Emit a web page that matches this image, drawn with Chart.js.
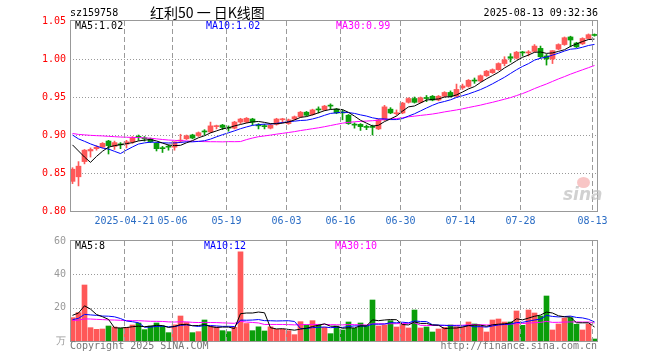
<!DOCTYPE html>
<html><head><meta charset="utf-8">
<script src="https://cdn.jsdelivr.net/npm/chart.js@4.4.1/dist/chart.umd.min.js"></script>
<style>
html,body{margin:0;padding:0;background:#fff;width:660px;height:360px;overflow:hidden;}
#wrap{position:relative;width:660px;height:360px;}
canvas{position:absolute;left:0;}
#pc{top:0;} #vc{top:230px;}
.t{position:absolute;font-family:"DejaVu Sans Mono",monospace;font-size:10px;line-height:12px;white-space:pre;color:#000;}
#eye{position:absolute;left:577px;top:177px;width:13px;height:11px;border-radius:50%;background:rgba(235,90,90,0.35);}
</style></head><body>
<div id="wrap">
<canvas id="pc" width="660" height="230"></canvas>
<canvas id="vc" width="660" height="130"></canvas>
<div id="eye"></div>
<div class="t" id="code" style="left:70px;top:7px;"></div>
<div class="t" id="title" style="left:150px;top:3px;font-family:'Noto Sans CJK SC',sans-serif;font-size:14px;line-height:18px;"></div>
<div class="t" id="stamp" style="right:62px;top:7px;"></div>
<div class="t" id="pl0" style="left:75px;top:20px;color:#000"></div>
<div class="t" id="pl1" style="left:206px;top:20px;color:#0000ff"></div>
<div class="t" id="pl2" style="left:336px;top:20px;color:#ff00ff"></div>
<div class="t" id="vl0" style="left:75px;top:240px;color:#000"></div>
<div class="t" id="vl1" style="left:204px;top:240px;color:#0000ff"></div>
<div class="t" id="vl2" style="left:335px;top:240px;color:#ff00ff"></div>
<div class="t" id="copy" style="left:70px;top:340px;color:#777"></div>
<div class="t" id="url" style="right:63px;top:340px;color:#777"></div>
<div class="t" id="logo" style="left:563px;top:184px;font-family:'DejaVu Sans',sans-serif;font-size:17px;font-weight:bold;font-style:italic;color:rgba(190,190,190,0.7);line-height:20px;"></div>
</div>
<script>
// ---------- data ----------
const code = 'sz159758';
const titleText = '红利50 一 日K线图';
const stampText = '2025-08-13 09:32:36';
const priceLegend = ['MA5:1.02', 'MA10:1.02', 'MA30:0.99'];
const volLegend = ['MA5:8', 'MA10:12', 'MA30:10'];
const copyText = 'Copyright 2025 SINA.COM';
const urlText = 'http://finance.sina.com.cn';

const dates = ['04-08','04-09','04-10','04-11','04-14','04-15','04-16','04-17','04-18','04-21',
'04-22','04-23','04-24','04-25','04-28','04-29','04-30','05-06','05-07','05-08',
'05-09','05-12','05-13','05-14','05-15','05-16','05-19','05-20','05-21','05-22',
'05-23','05-26','05-27','05-28','05-29','05-30','06-03','06-04','06-05','06-06',
'06-09','06-10','06-11','06-12','06-13','06-16','06-17','06-18','06-19','06-20',
'06-23','06-24','06-25','06-26','06-27','06-30','07-01','07-02','07-03','07-04',
'07-07','07-08','07-09','07-10','07-11','07-14','07-15','07-16','07-17','07-18',
'07-21','07-22','07-23','07-24','07-25','07-28','07-29','07-30','07-31','08-01',
'08-04','08-05','08-06','08-07','08-08','08-11','08-12','08-13'];
const tickDates = ['04-21','05-06','05-19','06-03','06-16','06-30','07-14','07-28','08-13'];
const tickLabels = ['2025-04-21','05-06','05-19','06-03','06-16','06-30','07-14','07-28','08-13'];
const priceTicks = [0.80, 0.85, 0.90, 0.95, 1.00, 1.05];
const volTicks = [0, 20, 40, 60];

const open = [.839,.845,.865,.879,.882,.884,.892,.885,.888,.888,
.891,.898,.896,.895,.889,.883,.885,.884,.892,.895,
.900,.899,.905,.904,.911,.913,.910,.909,.917,.917,
.921,.913,.912,.909,.914,.920,.915,.921,.924,.930,
.927,.934,.933,.939,.934,.930,.926,.914,.914,.911,
.911,.908,.920,.934,.928,.929,.943,.948,.943,.949,
.951,.946,.951,.956,.951,.962,.964,.972,.971,.978,
.982,.986,.994,1.003,1.001,1.009,1.008,1.010,1.014,1.004,
1.000,1.013,1.019,1.029,1.021,1.020,1.027,1.032];
const high = [.857,.865,.881,.883,.886,.890,.893,.892,.890,.893,
.898,.900,.898,.896,.890,.885,.887,.891,.901,.900,
.901,.904,.907,.917,.913,.914,.912,.918,.922,.923,
.922,.915,.914,.914,.922,.922,.921,.925,.931,.931,
.934,.937,.939,.941,.935,.933,.927,.916,.915,.913,
.913,.921,.939,.936,.933,.943,.949,.950,.950,.952,
.952,.952,.957,.958,.967,.967,.973,.975,.979,.985,
.987,.995,1.003,1.007,1.010,1.010,1.011,1.019,1.017,1.006,
1.011,1.020,1.029,1.030,1.022,1.028,1.033,1.033];
const low = [.836,.833,.862,.871,.880,.883,.875,.881,.882,.883,
.889,.893,.892,.890,.879,.877,.880,.880,.890,.894,
.895,.898,.900,.903,.908,.907,.905,.908,.915,.916,
.913,.908,.908,.908,.913,.916,.914,.920,.923,.925,
.926,.929,.932,.934,.928,.920,.914,.909,.906,.907,
.900,.907,.919,.928,.926,.928,.942,.942,.942,.944,
.945,.945,.950,.950,.950,.960,.963,.968,.970,.977,
.981,.985,.991,.996,1.000,1.004,1.004,1.009,1.001,.992,
.994,1.012,1.018,1.016,1.015,1.019,1.026,1.030];
const close = [.855,.859,.880,.881,.884,.889,.886,.890,.887,.891,
.896,.897,.895,.891,.882,.882,.884,.891,.893,.899,
.896,.903,.904,.912,.912,.910,.909,.917,.921,.922,
.917,.912,.911,.913,.921,.921,.920,.924,.930,.926,
.933,.933,.938,.938,.929,.929,.915,.913,.911,.910,
.910,.920,.937,.929,.929,.942,.948,.943,.949,.948,
.946,.951,.956,.951,.960,.9645,.972,.971,.978,.984,
.986,.994,.999,1.001,1.009,1.008,1.009,1.017,1.003,1.000,
1.011,1.019,1.028,1.025,1.016,1.027,1.032,1.031];
const volume = [14,17,33.6,8,7,7.2,9,8.4,7.6,8.2,
9.6,10.8,6.8,9,10.8,9,5,9.7,15,11.1,
5,5.6,12.6,9,8.4,6.2,5.6,8.2,53.5,10.5,
6.2,8.5,6,8.5,7,7,6.2,3.8,11.6,9.6,
12.2,10,8.2,4.4,9,6.6,11.4,7.6,10.8,9,
24.6,9,9.6,12.2,8.4,10.2,7.8,18.6,7.8,8.4,
5.4,7.2,8.2,9.6,8.6,8.2,11.4,10.2,9,5.4,
12.6,13.2,11.4,11.4,18,9.4,18.6,16.8,15,27,
6.6,10.2,13.8,14,10,6.6,10.2,1.2];
// closes / volumes of the 29 sessions before the first visible one (estimated from the MA lines at the left edge)
const prevClose = [0.895,0.898,0.900,0.897,0.899,0.902,0.904,0.901,0.899,0.903,
0.905,0.907,0.904,0.906,0.908,0.905,0.903,0.906,0.909,0.909,
0.910,0.912,0.915,0.913,0.915,0.899,0.920,0.916,0.845];
const prevVolume = [11,12,10,13,12,14,11,12,13,12,
11,12,14,12,11,13,12,11,12,14,
9,10,11,10,11,10,12,18,23];

// ---------- helpers ----------
function movingAvg(prev, vals, n) {
  const all = prev.concat(vals), off = prev.length;
  return vals.map((_, i) => { let s = 0; for (let k = 0; k < n; k++) s += all[off + i - k]; return s / n; });
}
const UP = '#ff5858', DOWN = '#0a9e0a';
const colors = close.map((c, i) => c >= open[i] ? UP : DOWN);
const tickIdx = tickDates.map(d => dates.indexOf(d));
const N = dates.length;
const XMIN = -5 / 12, XMAX = N - 5 / 12;
const FONT = { family: 'DejaVu Sans Mono', size: 10 };

document.getElementById('code').textContent = code;
document.getElementById('title').textContent = titleText;
document.getElementById('stamp').textContent = stampText;
['pl0','pl1','pl2'].forEach((id, k) => document.getElementById(id).textContent = priceLegend[k]);
['vl0','vl1','vl2'].forEach((id, k) => document.getElementById(id).textContent = volLegend[k]);
document.getElementById('copy').textContent = copyText;
document.getElementById('url').textContent = urlText;
document.getElementById('logo').textContent = 'sina';

function drawHGrid(chart, yt) {
  const { ctx, chartArea: a, scales } = chart;
  ctx.save(); ctx.fillStyle = '#999999';
  yt.forEach(v => {
    const y = Math.round(scales.y.getPixelForValue(v));
    if (y <= a.top + 1 || y >= a.bottom - 1) return;
    for (let x = Math.round(a.left); x < a.right; x += 3) ctx.fillRect(x, y, 1, 1);
  });
  ctx.restore();
}
function drawVGrid(chart) {
  const { ctx, chartArea: a, scales } = chart;
  ctx.save(); ctx.fillStyle = '#9a9a9a';
  tickIdx.forEach(i => {
    let px = scales.x.getPixelForValue(i - 1 / 3);
    if (!isFinite(px)) px = a.left + (i - 1 / 3 - XMIN) / (XMAX - XMIN) * (a.right - a.left);
    const x = Math.floor(px);
    for (let y = Math.round(a.top); y < a.bottom; y += 8) ctx.fillRect(x, y, 1, Math.min(5, a.bottom - y));
  });
  ctx.restore();
}
function makeGridPlugin(yt) {
  return {
    id: 'sinaGrid',
    beforeDatasetsDraw(chart) { drawHGrid(chart, yt); drawVGrid(chart); }
  };
}
const framePlugin = {
  id: 'frame',
  afterDraw(chart) {
    const a = chart.chartArea, ctx = chart.ctx;
    drawVGrid(chart);
    ctx.save();
    ctx.strokeStyle = '#999'; ctx.lineWidth = 1; ctx.setLineDash([]);
    ctx.strokeRect(Math.round(a.left) + 0.5, Math.round(a.top) - 0.5, Math.round(a.right - a.left) - 1, Math.round(a.bottom - a.top) + 1);
    ctx.restore();
  }
};

function xScale(showLabels) {
  return {
    type: 'linear', min: XMIN, max: XMAX, offset: false,
    afterBuildTicks: s => { s.ticks = tickIdx.map(i => ({ value: i - 1 / 3 })); },
    afterFit: s => { s.height = 19; },
    grid: { display: false, drawTicks: false },
    border: { display: false },
    ticks: { display: showLabels, autoSkip: false, maxRotation: 0, minRotation: 0, padding: 4,
      color: '#2a6cc4', font: FONT, callback: (v, i) => tickLabels[i] }
  };
}

const ma5 = movingAvg(prevClose, close, 5), ma10 = movingAvg(prevClose, close, 10), ma30 = movingAvg(prevClose, close, 30);
const lineDs = (lab, arr, col) => ({ type: 'line', label: lab, data: arr.map((y, i) => ({ x: i, y })), borderColor: col,
  backgroundColor: 'rgba(0,0,0,0)', borderWidth: 1, pointRadius: 0, tension: 0, fill: false, order: 0 });

new Chart(document.getElementById('pc'), {
  type: 'bar',
  data: { datasets: [
    lineDs('MA5', ma5, '#000000'), lineDs('MA10', ma10, '#0000ff'), lineDs('MA30', ma30, '#ff00ff'),
    { label: 'range', data: low.map((l, i) => ({ x: i, y: [l, high[i]] })), backgroundColor: colors,
      barThickness: 1, grouped: false, borderWidth: 0, order: 6 },
    { label: 'body', data: open.map((o, i) => ({ x: i, y: [o, close[i]] })), backgroundColor: colors,
      barThickness: 5, minBarLength: 1, grouped: false, borderWidth: 0, order: 5 }
  ]},
  options: {
    responsive: false, animation: false, events: [],
    layout: { padding: { top: 21, right: 62, left: 0, bottom: 0 } },
    plugins: { legend: { display: false }, tooltip: { enabled: false } },
    scales: {
      x: xScale(true),
      y: { min: 0.80, max: 1.05,
        afterBuildTicks: s => { s.ticks = priceTicks.map(v => ({ value: v })); },
        afterFit: s => { s.width = 70; },
        grid: { display: false, drawTicks: false },
        border: { display: false },
        ticks: { color: '#ff0000', font: FONT, padding: 4, callback: v => v.toFixed(2) } }
    }
  },
  plugins: [makeGridPlugin(priceTicks), framePlugin]
});

const vma5 = movingAvg(prevVolume, volume, 5), vma10 = movingAvg(prevVolume, volume, 10), vma30 = movingAvg(prevVolume, volume, 30);
new Chart(document.getElementById('vc'), {
  type: 'bar',
  data: { datasets: [
    lineDs('MA5', vma5, '#000000'), lineDs('MA10', vma10, '#0000ff'), lineDs('MA30', vma30, '#ff00ff'),
    { label: 'vol', data: volume.map((v, i) => ({ x: i, y: v })), backgroundColor: colors,
      barThickness: 5, grouped: false, borderWidth: 0, order: 5 }
  ]},
  options: {
    responsive: false, animation: false, events: [],
    layout: { padding: { top: 11, right: 62, left: 0, bottom: 0 } },
    plugins: { legend: { display: false }, tooltip: { enabled: false } },
    scales: {
      x: xScale(false),
      y: { min: 0, max: 60,
        afterBuildTicks: s => { s.ticks = volTicks.map(v => ({ value: v })); },
        afterFit: s => { s.width = 70; },
        grid: { display: false, drawTicks: false },
        border: { display: false },
        ticks: { color: '#999', font: FONT, padding: 4, callback: v => v === 0 ? '万' : String(v) } }
    }
  },
  plugins: [makeGridPlugin(volTicks), framePlugin]
});
</script>
</body></html>
